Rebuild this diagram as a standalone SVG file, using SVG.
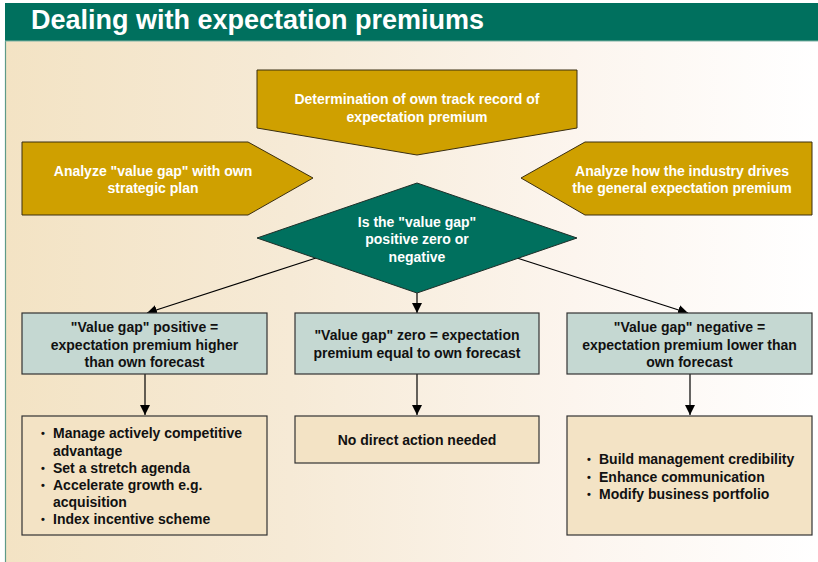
<svg xmlns="http://www.w3.org/2000/svg" width="818" height="562" viewBox="0 0 818 562">
<defs>
  <linearGradient id="bg" x1="0" y1="0" x2="1" y2="0">
    <stop offset="0" stop-color="#F3E3C4"/>
    <stop offset="0.35" stop-color="#F6EAD6"/>
    <stop offset="0.7" stop-color="#FCF5EE"/>
    <stop offset="1" stop-color="#FFFFFF"/>
  </linearGradient>
  <marker id="arr" viewBox="0 0 10 10" refX="10" refY="5" markerWidth="10" markerHeight="10" markerUnits="userSpaceOnUse" orient="auto">
    <path d="M0,0 L10,5 L0,10 Z" fill="#000"/>
  </marker>
  <style>
    .gold{fill:#CFA000;stroke:#3A2E10;stroke-width:1}
    .dia{fill:#00705E;stroke:#1E2E28;stroke-width:1}
    .blue{fill:#C5D8D2;stroke:#333;stroke-width:1.2}
    .tan{fill:#F3E3C5;stroke:#333;stroke-width:1.2}
    .wt{font-family:"Liberation Sans",Arial,sans-serif;font-weight:bold;font-size:14px;fill:#FFFFFF;text-anchor:middle}
    .bt{font-family:"Liberation Sans",Arial,sans-serif;font-weight:bold;font-size:14px;fill:#111;text-anchor:middle}
    .bl{font-family:"Liberation Sans",Arial,sans-serif;font-weight:bold;font-size:14px;fill:#111}
    .bu{font-family:"Liberation Sans",Arial,sans-serif;font-weight:bold;font-size:11px;fill:#111}
    .con{stroke:#000;stroke-width:1.2;fill:none;marker-end:url(#arr)}
  </style>
</defs>
<rect x="0" y="0" width="818" height="562" fill="#FFFFFF"/>
<rect x="5" y="41" width="813" height="521" fill="url(#bg)"/>
<line x1="5.5" y1="41" x2="5.5" y2="562" stroke="#5E9A88" stroke-width="1.2"/>
<g id="header">
  <rect x="5" y="3" width="813" height="38" fill="#00705E"/>
  <line x1="5" y1="41" x2="818" y2="41" stroke="#7FB2A3" stroke-width="1"/>
  <text x="31" y="29" font-family="Liberation Sans,Arial,sans-serif" font-weight="bold" font-size="27" fill="#FFFFFF">Dealing with expectation premiums</text>
</g>
<g id="connectors">
  <line class="con" x1="417" y1="293" x2="417" y2="313"/>
  <line class="con" x1="316" y1="258" x2="147" y2="313"/>
  <line class="con" x1="517" y1="258" x2="688" y2="313"/>
  <line class="con" x1="145" y1="374" x2="145" y2="415"/>
  <line class="con" x1="417" y1="374" x2="417" y2="415"/>
  <line class="con" x1="690" y1="374" x2="690" y2="415"/>
</g>
<g id="track-record">
  <polygon class="gold" points="257,70 577,70 577,128 417,155 257,128"/>
  <text class="wt" x="417" y="104">Determination of own track record of</text>
  <text class="wt" x="417" y="122">expectation premium</text>
</g>
<g id="analyze-plan">
  <polygon class="gold" points="22,142 248,142 313,178 248,215 22,215"/>
  <text class="wt" x="153" y="176">Analyze "value gap" with own</text>
  <text class="wt" x="153" y="193">strategic plan</text>
</g>
<g id="analyze-industry">
  <polygon class="gold" points="521,178 585,142 812,142 812,215 585,215"/>
  <text class="wt" x="682" y="176">Analyze how the industry drives</text>
  <text class="wt" x="682" y="193">the general expectation premium</text>
</g>
<g id="decision">
  <polygon class="dia" points="417,183 577,238 417,293 257,238"/>
  <text class="wt" x="417" y="227">Is the "value gap"</text>
  <text class="wt" x="417" y="244">positive zero or</text>
  <text class="wt" x="417" y="262">negative</text>
</g>
<g id="gap-positive">
  <rect class="blue" x="22" y="313" width="245" height="61"/>
  <text class="bt" x="144.5" y="332">"Value gap" positive =</text>
  <text class="bt" x="144.5" y="350">expectation premium higher</text>
  <text class="bt" x="144.5" y="367">than own forecast</text>
</g>
<g id="gap-zero">
  <rect class="blue" x="295" y="313" width="244" height="61"/>
  <text class="bt" x="417" y="340">"Value gap" zero = expectation</text>
  <text class="bt" x="417" y="358">premium equal to own forecast</text>
</g>
<g id="gap-negative">
  <rect class="blue" x="567" y="313" width="245" height="61"/>
  <text class="bt" x="689.5" y="332">"Value gap" negative =</text>
  <text class="bt" x="689.5" y="350">expectation premium lower than</text>
  <text class="bt" x="689.5" y="367">own forecast</text>
</g>
<g id="actions-positive">
  <rect class="tan" x="22" y="416" width="245" height="119"/>
  <text class="bu" x="41" y="437">•</text>
  <text class="bl" x="53" y="438">Manage actively competitive</text>
  <text class="bl" x="53" y="456">advantage</text>
  <text class="bu" x="41" y="472">•</text>
  <text class="bl" x="53" y="473">Set a stretch agenda</text>
  <text class="bu" x="41" y="489">•</text>
  <text class="bl" x="53" y="490">Accelerate growth e.g.</text>
  <text class="bl" x="53" y="507">acquisition</text>
  <text class="bu" x="41" y="523">•</text>
  <text class="bl" x="53" y="524">Index incentive scheme</text>
</g>
<g id="actions-zero">
  <rect class="tan" x="295" y="416" width="244" height="47"/>
  <text class="bt" x="417" y="445">No direct action needed</text>
</g>
<g id="actions-negative">
  <rect class="tan" x="567" y="416" width="245" height="119"/>
  <text class="bu" x="587" y="463">•</text>
  <text class="bl" x="599" y="464">Build management credibility</text>
  <text class="bu" x="587" y="481">•</text>
  <text class="bl" x="599" y="482">Enhance communication</text>
  <text class="bu" x="587" y="498">•</text>
  <text class="bl" x="599" y="499">Modify business portfolio</text>
</g>
</svg>
